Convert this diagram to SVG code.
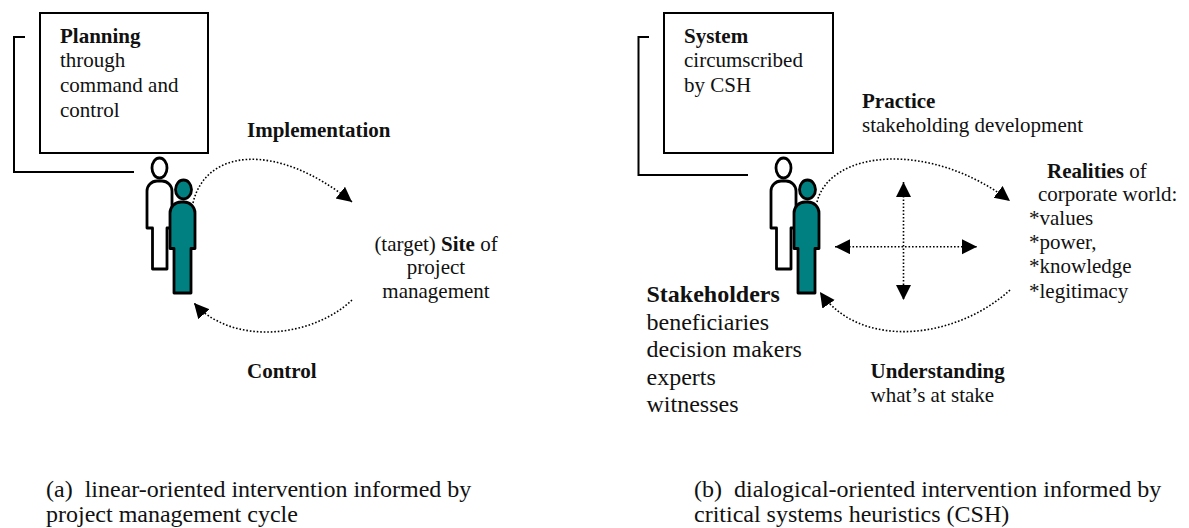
<svg xmlns="http://www.w3.org/2000/svg" width="1189" height="528" viewBox="0 0 1189 528" font-family="'Liberation Serif', 'Times New Roman', 'DejaVu Serif', serif">
<style>
.t{font-family:'Liberation Serif','Times New Roman','DejaVu Serif',serif;font-size:21px;fill:#111}
.b{font-weight:bold}
.s24{font-size:24px}
.box{fill:#fff;stroke:#000;stroke-width:2}
.br{fill:none;stroke:#000;stroke-width:2}
.dot{fill:none;stroke:#000;stroke-width:1.6;stroke-dasharray:1.6 1.9}
.pw{fill:#fff;stroke:#000;stroke-width:2.8;stroke-linejoin:round}
.pt{fill:#008080;stroke:#000;stroke-width:2.8;stroke-linejoin:round}
</style>
<defs>
<marker id="ah" markerUnits="userSpaceOnUse" markerWidth="16" markerHeight="16" refX="15" refY="7.5" orient="auto-start-reverse" viewBox="0 0 16 16">
<path d="M0,0 L15,7.5 L0,15 Z" fill="#000"/>
</marker>
</defs>

<!-- Panel (a) -->
<g id="planning-box">
<path class="br" d="M25,37 H14 V172 H134"/>
<rect class="box" x="40" y="13" width="168" height="140"/>
<text class="t b" x="60" y="43">Planning</text>
<text class="t" x="60" y="67">through</text>
<text class="t" x="60" y="92">command and</text>
<text class="t" x="60" y="117">control</text>
</g>

<g id="people-a">
<ellipse class="pw" cx="159.5" cy="168" rx="7.5" ry="10"/>
<path class="pw" d="M152.5,269 L152.5,228 L147,228 L147,191 A10,10 0 0 1 157,181 L162,181 A10,10 0 0 1 172,191 L172,228 L167,228 L167,269 Z"/>
<ellipse class="pt" cx="183.5" cy="189.5" rx="8" ry="9.5"/>
<path class="pt" d="M174,293 L174,248.5 L170,248.5 L170,213 A11,11 0 0 1 181,202 L184,202 A11,11 0 0 1 195,213 L195,248.5 L191,248.5 L191,293 Z"/>
</g>

<g id="site-a">
<text class="t" x="436" y="251" text-anchor="middle">(target) <tspan class="b">Site</tspan> of</text>
<text class="t" x="436" y="274" text-anchor="middle">project</text>
<text class="t" x="436" y="298" text-anchor="middle">management</text>
</g>

<g id="labels-a">
<text class="t b" x="247" y="137">Implementation</text>
<text class="t b" x="247" y="378">Control</text>
</g>

<g id="connectors">
<path class="dot" d="M193,203 C205,150 275,140 352,202" marker-end="url(#ah)"/>
<path class="dot" d="M352,300 C312,338 232,346 194,303" marker-end="url(#ah)"/>
<path class="dot" d="M817,202 C830,150 930,140 1010,201" marker-end="url(#ah)"/>
<path class="dot" d="M1010,290 C955,340 860,350 820,292" marker-end="url(#ah)"/>
<path class="dot" d="M903.5,182 V300" marker-start="url(#ah)" marker-end="url(#ah)"/>
<path class="dot" d="M835,246.7 H977" marker-start="url(#ah)" marker-end="url(#ah)"/>
</g>

<g id="caption-a">
<text class="t s24" x="46" y="497">(a)&#160; linear-oriented intervention informed by</text>
<text class="t s24" x="46" y="522">project management cycle</text>
</g>

<!-- Panel (b) -->
<g id="system-box">
<path class="br" d="M649,37 H638.5 V175 H748"/>
<rect class="box" x="664" y="13" width="169" height="140"/>
<text class="t b" x="684" y="43">System</text>
<text class="t" x="684" y="67">circumscribed</text>
<text class="t" x="684" y="92">by CSH</text>
</g>

<g id="people-b" transform="translate(624,0)">
<ellipse class="pw" cx="159.5" cy="168" rx="7.5" ry="10"/>
<path class="pw" d="M152.5,269 L152.5,228 L147,228 L147,191 A10,10 0 0 1 157,181 L162,181 A10,10 0 0 1 172,191 L172,228 L167,228 L167,269 Z"/>
<ellipse class="pt" cx="183.5" cy="189.5" rx="8" ry="9.5"/>
<path class="pt" d="M174,293 L174,248.5 L170,248.5 L170,213 A11,11 0 0 1 181,202 L184,202 A11,11 0 0 1 195,213 L195,248.5 L191,248.5 L191,293 Z"/>
</g>

<g id="practice">
<text class="t b" x="862" y="108">Practice</text>
<text class="t" x="862" y="132">stakeholding development</text>
</g>

<g id="realities">
<text class="t" x="1047" y="177.5"><tspan class="b">Realities</tspan> of</text>
<text class="t" x="1038" y="201">corporate world:</text>
<text class="t" x="1029" y="224.5">*values</text>
<text class="t" x="1029" y="249">*power,</text>
<text class="t" x="1029" y="273">*knowledge</text>
<text class="t" x="1029" y="297.5">*legitimacy</text>
</g>

<g id="stakeholders">
<text class="t s24 b" x="646.5" y="301.5">Stakeholders</text>
<text class="t s24" x="646.5" y="329.5">beneficiaries</text>
<text class="t s24" x="646.5" y="357">decision makers</text>
<text class="t s24" x="646.5" y="384.5">experts</text>
<text class="t s24" x="646.5" y="412">witnesses</text>
</g>

<g id="understanding">
<text class="t b" x="870.5" y="378">Understanding</text>
<text class="t" x="870.5" y="402">what’s at stake</text>
</g>

<g id="caption-b">
<text class="t s24" x="694" y="497">(b)&#160; dialogical-oriented intervention informed by</text>
<text class="t s24" x="694" y="522">critical systems heuristics (CSH)</text>
</g>
</svg>
